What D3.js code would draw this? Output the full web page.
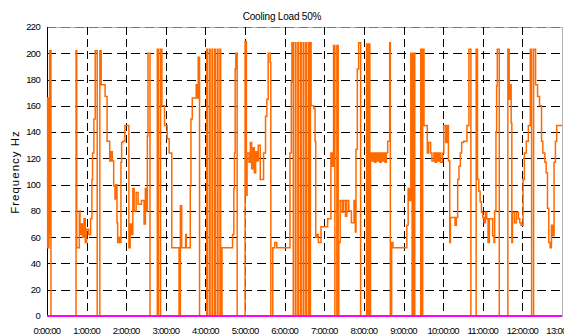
<!DOCTYPE html>
<meta charset="utf-8">
<style>
body { margin: 0; background: #fff; }
text { font-family: "Liberation Sans", Arial, sans-serif; fill: #000; }
.grid line { stroke: #000; stroke-width: 1; stroke-dasharray: 9,5; }
</style>
<svg width="564" height="336"></svg>
<script src="https://cdn.jsdelivr.net/npm/d3@7/dist/d3.min.js"></script>
<script>
// breakpoints of the orange trace: minute since start, frequency in Hz (held until next point)
var minutes = [
  0,1,2,3,4,6,44,45,49,50,52,54,56,58,60,63,66,68,69,71,73,76,80,82,88,91,95,97,99,101,103,104,106,107,109,111,112,113,115,118,124,126,
  128,130,132,135,138,143,147,149,151,152,153,156,167,169,172,174,178,182,185,189,200,202,204,210,211,217,218,220,226,228,229,231,
  242,243,246,247,250,251,254,255,258,259,262,263,265,
  281,283,284,285,286,288,300,302,303,306,308,310,312,314,316,318,320,323,328,331,333,335,338,339,342,345,348,368,370,371,373,
  376,377,380,381,384,385,388,389,392,393,396,397,399,400,404,406,407,409,411,415,425,430,432,434,436,439,441,442,444,447,449,
  452,454,457,461,465,467,468,470,472,475,484,486,487,489,490,492,494,496,498,500,502,504,506,508,510,512,514,516,519,520,522,524,
  545,547,549,551,553,555,557,566,568,569,571,576,578,581,583,586,588,590,592,594,596,599,601,604,606,608,610,611,618,620,622,624,
  626,628,631,636,639,642,650,652,654,656,658,660,662,664,666,668,670,675,677,678,680,681,682,685,698,700,702,703,704,705,708,711,
  714,716,718,721,723,726,729,732,734,737,740,743,746,749,751,754,756,758,760,762,764,766,768,770,772,780
];
var freq = [
  52,166,52,62,202,0,202,52,80,62,70,60,74,56,66,62,74,104,124,150,202,0,202,176,167,133,118,125,118,99,89,100,71,56,60,56,117,132,133,145,52,70,
  62,97,80,94,85,88,70,97,80,137,200,0,203,0,203,160,145,135,124,52,0,84,52,62,52,99,150,166,176,166,197,0,
  203,0,203,0,203,0,203,0,203,0,203,0,52,
  62,97,124,188,200,0,209,92,124,117,132,112,128,109,125,118,130,104,124,152,165,200,193,0,52,56,52,124,178,208,0,
  208,0,208,0,208,0,208,0,208,0,208,0,208,160,158,133,60,62,56,68,74,124,114,206,0,206,0,56,88,79,88,
  76,88,80,71,88,64,127,188,208,0,207,0,207,0,124,118,124,117,124,118,124,117,124,118,124,117,124,133,208,0,56,52,
  69,97,88,200,0,200,0,203,0,203,145,124,132,124,118,124,117,124,118,124,117,124,145,132,145,118,56,75,69,75,104,114,
  124,132,133,145,203,0,203,104,95,87,79,75,71,79,74,56,74,61,56,80,140,175,203,0,203,165,176,147,56,79,71,79,
  74,71,69,104,124,133,145,203,0,203,176,167,160,133,124,117,109,82,56,52,69,61,117,133,145,145
];
// second unit, idle all day
var minutes2 = [0, 780];
var freq2 = [0, 0];

var hourTicks = [0,1,2,3,4,5,6,7,8,9,10,11,12,13];
var hourLabels = hourTicks.map(function(h) { return h + ":00:00"; });
var freqTicks = [0,20,40,60,80,100,120,140,160,180,200,220];

var svg = d3.select("svg"),
    plotL = 47, plotR = 562, plotT = 27, plotB = 316;

var x = d3.scaleLinear().domain([0, 780]).range([plotL, plotR]);
var y = d3.scaleLinear().domain([0, 220]).range([plotB, plotT]);

// plot frame
svg.append("rect")
    .attr("x", plotL + 0.5).attr("y", plotT + 0.5)
    .attr("width", plotR - plotL).attr("height", plotB - plotT)
    .attr("fill", "none").attr("stroke", "#b4b4b4");

var grid = svg.append("g").attr("class", "grid");
grid.selectAll(".h").data(freqTicks.slice(1))
  .enter().append("line")
    .attr("x1", plotL).attr("x2", plotR)
    .attr("y1", function(d) { return Math.round(y(d)) + 0.5; })
    .attr("y2", function(d) { return Math.round(y(d)) + 0.5; })
    .style("stroke", function(d) { return d == 220 ? "#777" : null; });
grid.selectAll(".v").data(hourTicks.slice(1, -1))
  .enter().append("line")
    .attr("y1", plotT).attr("y2", plotB)
    .attr("x1", function(d) { return Math.round(x(d * 60)) + 0.5; })
    .attr("x2", function(d) { return Math.round(x(d * 60)) + 0.5; })
    .style("stroke-dasharray", "8,4");

// y axis line
svg.append("line")
    .attr("x1", plotL + 0.5).attr("x2", plotL + 0.5)
    .attr("y1", plotT).attr("y2", plotB)
    .attr("stroke", "#000");

svg.append("g").selectAll("text").data(freqTicks)
  .enter().append("text")
    .attr("x", 40)
    .attr("y", function(d) { return y(d); })
    .attr("dy", "0.35em")
    .attr("text-anchor", "end")
    .style("font-size", "9.5px")
    .style("letter-spacing", "-0.7px")
    .text(function(d) { return d; });

svg.append("g").selectAll("text").data(hourTicks)
  .enter().append("text")
    .attr("x", function(d) { return x(d * 60); })
    .attr("y", 334)
    .attr("text-anchor", "middle")
    .style("font-size", "9.5px")
    .style("letter-spacing", "-0.7px")
    .text(function(d, i) { return hourLabels[i]; });

var trace = minutes.map(function(m, i) { return [m, freq[i]]; });
var trace2 = minutes2.map(function(m, i) { return [m, freq2[i]]; });

var line = d3.line()
    .curve(d3.curveStepAfter)
    .x(function(d) { return x(d[0]); })
    .y(function(d) { return y(d[1]); });

svg.append("path")
    .datum(trace)
    .attr("d", line)
    .attr("fill", "none")
    .attr("stroke", "#ff6a00")
    .attr("stroke-width", 1.5);

svg.append("path")
    .datum(trace2)
    .attr("d", line)
    .attr("fill", "none")
    .attr("stroke", "#ff00ff")
    .attr("stroke-width", 2.2);

svg.append("text")
    .attr("x", 282).attr("y", 20)
    .attr("text-anchor", "middle")
    .style("font-size", "10px")
    .style("letter-spacing", "-0.2px")
    .text("Cooling  Load 50%");

svg.append("text")
    .attr("transform", "translate(19,172) rotate(-90)")
    .attr("text-anchor", "middle")
    .style("font-size", "11.5px")
    .style("letter-spacing", "1px")
    .text("Frequency  Hz");
</script>
